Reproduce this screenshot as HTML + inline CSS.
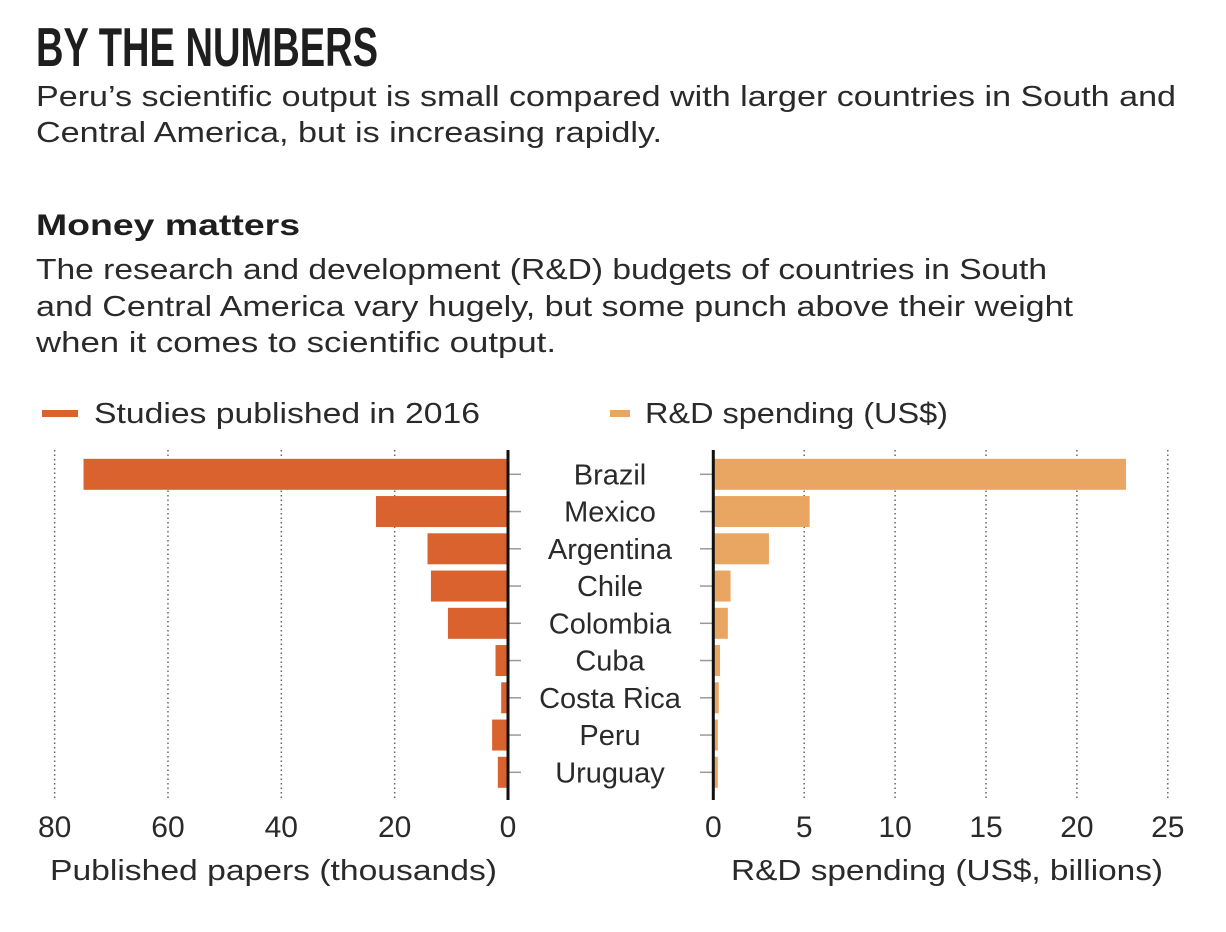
<!DOCTYPE html>
<html><head><meta charset="utf-8"><style>
html,body{margin:0;padding:0;background:#fff;}
svg{display:block;font-family:"Liberation Sans",sans-serif;fill:#2a2a2a;}
</style></head><body>
<svg id="chart" width="1226" height="932" viewBox="0 0 1226 932">
<text x="36" y="66" font-family="Liberation Sans Narrow, Liberation Sans, sans-serif" font-weight="bold" font-size="55" textLength="342" lengthAdjust="spacingAndGlyphs" fill="#1e1e1e">BY THE NUMBERS</text>
<text x="36" y="106" font-size="29" textLength="1140" lengthAdjust="spacingAndGlyphs">Peru’s scientific output is small compared with larger countries in South and</text>
<text x="36" y="142" font-size="29" textLength="626" lengthAdjust="spacingAndGlyphs">Central America, but is increasing rapidly.</text>
<text x="36" y="235" font-size="30" font-weight="bold" textLength="264" lengthAdjust="spacingAndGlyphs" fill="#1e1e1e">Money matters</text>
<text x="36" y="279" font-size="29" textLength="1011" lengthAdjust="spacingAndGlyphs">The research and development (R&amp;D) budgets of countries in South</text>
<text x="36" y="316" font-size="29" textLength="1037" lengthAdjust="spacingAndGlyphs">and Central America vary hugely, but some punch above their weight</text>
<text x="36" y="352" font-size="29" textLength="520" lengthAdjust="spacingAndGlyphs">when it comes to scientific output.</text>
<g>
<rect x="42" y="410" width="36" height="7" fill="#d9622e"/>
<text x="94" y="423" font-size="29" textLength="386" lengthAdjust="spacingAndGlyphs">Studies published in 2016</text>
<rect x="610" y="410" width="20" height="7" fill="#e9a662"/>
<text x="645" y="423" font-size="29" textLength="303" lengthAdjust="spacingAndGlyphs">R&amp;D spending (US$)</text>
</g>
<g id="plot"></g>
<text x="50" y="880" font-size="29" textLength="447" lengthAdjust="spacingAndGlyphs">Published papers (thousands)</text>
<text x="731" y="880" font-size="29" textLength="432" lengthAdjust="spacingAndGlyphs">R&amp;D spending (US$, billions)</text>
</svg>
<script>
const countries = ["Brazil","Mexico","Argentina","Chile","Colombia","Cuba","Costa Rica","Peru","Uruguay"];
const papers = [74.9,23.3,14.2,13.6,10.6,2.2,1.2,2.8,1.8];
const spending = [22.7,5.3,3.06,0.95,0.8,0.37,0.3,0.25,0.25];
const paperTicks = [80,60,40,20,0];
const spendTicks = [0,5,10,15,20,25];

const NS="http://www.w3.org/2000/svg";
const g=document.getElementById('plot');
function mk(t,a){const e=document.createElementNS(NS,t);for(const k in a)e.setAttribute(k,a[k]);g.appendChild(e);return e;}
const xL=v=>508-v*5.667;
const xR=v=>713.3+v*18.18;
const yC=i=>474.3+i*37.25;
const yTop=450,yBot=800,bh=31;

paperTicks.forEach(t=>{
  if(t!==0){const l=mk('line',{x1:xL(t),x2:xL(t),y1:yTop,y2:yBot,stroke:'#666','stroke-width':1.5,'stroke-dasharray':'1.5 3'});
  
  }
  const tx=mk('text',{x:xL(t),y:837,'font-size':30,'text-anchor':'middle'});tx.textContent=t;
  
  
});
spendTicks.forEach(t=>{
  if(t!==0){const l=mk('line',{x1:xR(t),x2:xR(t),y1:yTop,y2:yBot,stroke:'#666','stroke-width':1.5,'stroke-dasharray':'1.5 3'});
  
  }
  const tx=mk('text',{x:xR(t),y:837,'font-size':30,'text-anchor':'middle'});tx.textContent=t;
  
  
});
countries.forEach((c,i)=>{
  const y=yC(i);
  const b1=mk('rect',{x:xL(papers[i]),y:y-bh/2,width:xL(0)-xL(papers[i]),height:bh,fill:'#d9622e'});
  
  
  const b2=mk('rect',{x:xR(0),y:y-bh/2,width:xR(spending[i])-xR(0),height:bh,fill:'#e9a662'});
  
  
  const t1=mk('line',{x1:508,x2:521,y1:y,y2:y,stroke:'#999','stroke-width':1.5});
  
  
  const t2=mk('line',{x1:700,x2:713,y1:y,y2:y,stroke:'#999','stroke-width':1.5});
  
  
  const lb=mk('text',{x:610,y:y+10,'font-size':29,'text-anchor':'middle'});lb.textContent=c;
  
  
});
const a1=mk('line',{x1:508,x2:508,y1:yTop,y2:yBot,stroke:'#111','stroke-width':3});


const a2=mk('line',{x1:713.3,x2:713.3,y1:yTop,y2:yBot,stroke:'#111','stroke-width':3});


</script>
</body></html>
